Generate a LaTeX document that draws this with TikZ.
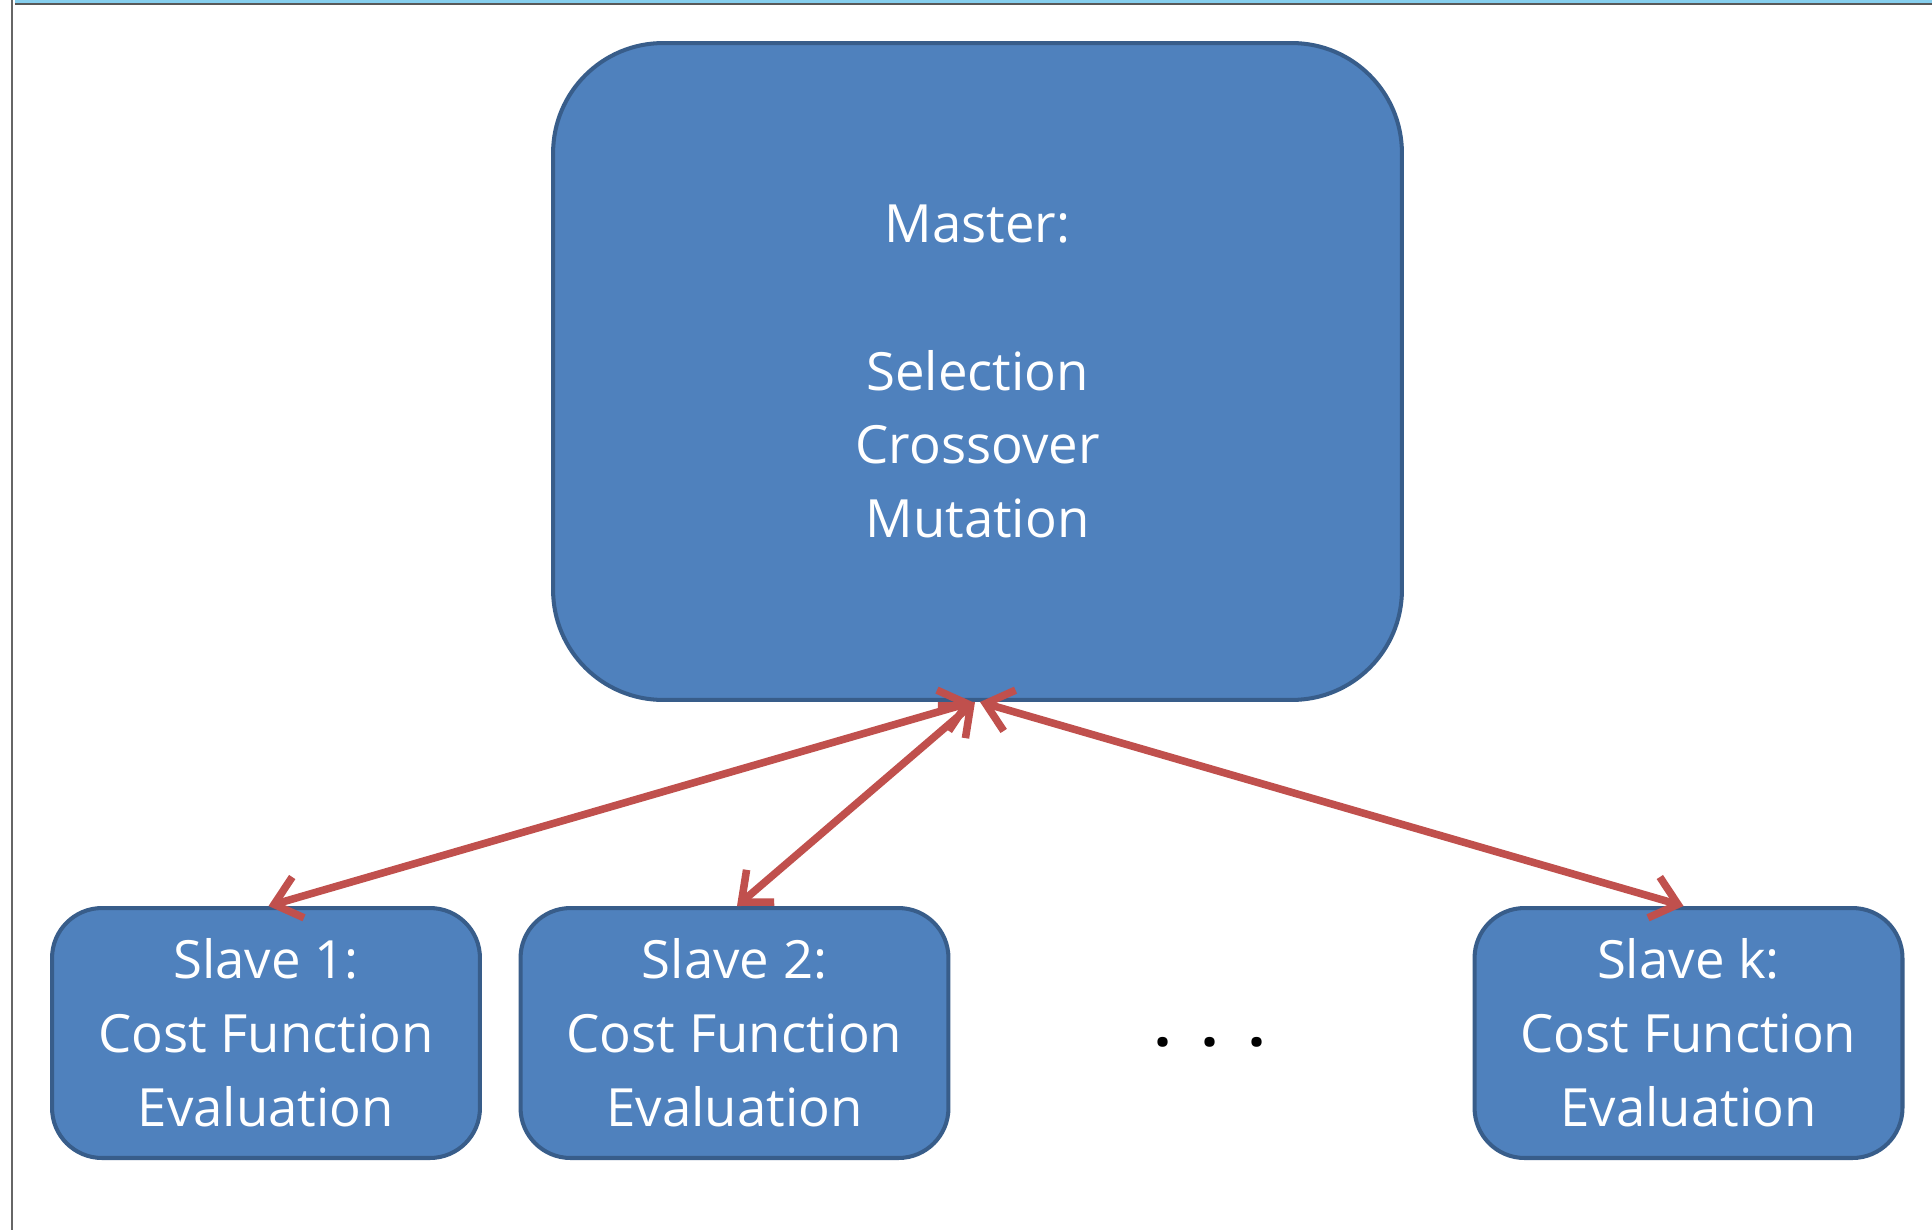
\documentclass[tikz,border=0pt]{standalone}
\usepackage{fontspec}
\setmainfont{Open Sans}
\usepackage{xcolor}
\usetikzlibrary{arrows.meta}

\definecolor{boxfill}{HTML}{4F81BD}
\definecolor{boxline}{HTML}{385D8A}
\definecolor{arrowred}{HTML}{C0504D}
\definecolor{bandblue}{HTML}{86CFEE}

\tikzset{
	masterbox/.style={rectangle,draw=boxline,fill=boxfill,line width=2.3pt,rounded corners=2.2cm,minimum width=16.98cm,minimum height=13.14cm,text=white,align=center,font=\fontsize{30}{42}\selectfont},
	slavebox/.style={rectangle,draw=boxline,fill=boxfill,line width=2.3pt,rounded corners=1cm,minimum width=8.56cm,minimum height=5cm,text=white,align=center,font=\fontsize{30}{42}\selectfont},
	link/.style={draw=arrowred,line width=4.3pt,{Straight Barb[length=0.5cm,width=0.85cm,line width=4.3pt]}-{Straight Barb[length=0.5cm,width=0.85cm,line width=4.3pt]}},
}

\begin{document}
\begin{tikzpicture}[x=0.02cm,y=-0.02cm]
		\useasboundingbox (0,0) rectangle (1932,1230);
		\fill[white] (0,0) rectangle (1932,1230);
		% window frame of the screenshot
		\fill[bandblue] (15,0) rectangle (1932,3.5);
		\draw[black!65,line width=1.2pt] (15,4.2) -- (1932,4.2);
		\draw[black!60,line width=1.2pt] (12,0) -- (12,1230);
		
		\coordinate(M) at (977.5,371.5);
		\coordinate(S1) at (266,1033);
		\coordinate(S2) at (734.5,1033);
		\coordinate(SK) at (1688.5,1033);
		
		\node[masterbox] (master) at (M) {Master:\\[42pt]Selection\\Crossover\\Mutation};
		\node[slavebox] (slave1) at (S1) {Slave 1:\\Cost Function\\Evaluation};
		\node[slavebox] (slave2) at (S2) {Slave 2:\\Cost Function\\Evaluation};
		\node[slavebox] (slavek) at (SK) {Slave k:\\Cost Function\\Evaluation};
		
		\node[anchor=base,inner sep=0pt,font=\fontsize{34}{42}\selectfont\bfseries] (dots) at (1210,1046) {.\hspace{0.6cm}.\hspace{0.6cm}.};
		
		\draw[link] ([xshift=0.05cm]slave1.north) -- ([xshift=-0.1cm]master.south);
		\draw[link] ([xshift=0.05cm]slave2.north) -- ([xshift=-0.05cm]master.south);
		\draw[link] ([xshift=-0.1cm]slavek.north) -- ([xshift=0.05cm]master.south);
	\end{tikzpicture}
\end{document}
